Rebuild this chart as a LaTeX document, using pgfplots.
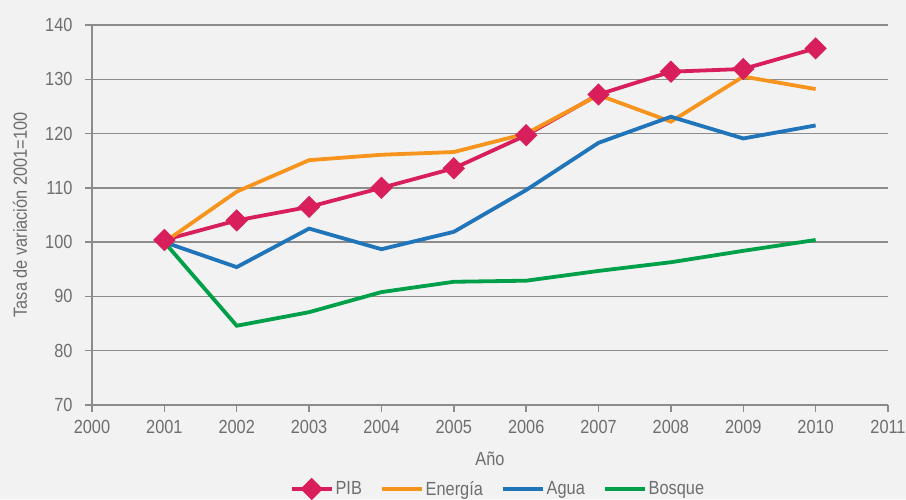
\documentclass[border=0pt]{standalone}
\usepackage{fontspec}
\setmainfont{Liberation Sans}[FakeStretch=0.86]
\usepackage{pgfplots}
\pgfplotsset{compat=1.18}
\definecolor{bgc}{HTML}{F2F2F2}
\definecolor{txt}{HTML}{6D6E70}
\definecolor{gridc}{HTML}{8C8C8C}
\definecolor{cpib}{HTML}{D81E5B}
\definecolor{cene}{HTML}{F7941D}
\definecolor{cagu}{HTML}{1F74BA}
\definecolor{cbos}{HTML}{00A04B}
\begin{document}
\begin{tikzpicture}
\fill[bgc] (-92pt,-94pt) rectangle (814pt,405pt);
\begin{axis}[
  at={(0pt,0pt)}, anchor=south west,
  scale only axis, width=796pt, height=380pt,
  xmin=2000, xmax=2011, ymin=70, ymax=140,
  xtick={2000,2001,...,2011}, ytick={70,80,...,140},
  xticklabel style={/pgf/number format/1000 sep={}, yshift=-5pt},
  yticklabel style={xshift=-9pt},
  /pgf/number format/assume math mode=true,
  axis x line*=bottom, axis y line*=left,
  axis line style={gridc, line width=1.5pt, -},
  tick style={gridc, line width=1.5pt},
  tick align=outside, major tick length=7pt,
  ymajorgrids, grid style={gridc, line width=1.5pt},
  ticklabel style={font=\fontsize{19}{21}\selectfont, text=txt},
  label style={font=\fontsize{19}{21}\selectfont, text=txt},
  xlabel={Año}, ylabel={Tasa de variación 2001=100},
  xlabel style={at={(axis description cs:0.5,-0.142)}, anchor=center},
  ylabel style={at={(axis description cs:-0.0905,0.5)}, anchor=center},
  legend columns=4,
  legend style={draw=none, fill=none, font=\fontsize{19}{21}\selectfont, text=txt,
    at={(axis description cs:0.51,-0.221)}, anchor=center,
    /tikz/every even column/.append style={column sep=16pt}},
  legend image code/.code={\draw[mark repeat=2,mark phase=2] plot coordinates {(0pt,0pt) (20pt,0pt) (40pt,0pt)};},
  every axis plot/.append style={line width=3.8pt},
  clip=false,
]
\addplot[cpib, mark=square*, mark size=6pt, mark options={rotate=45, solid}] coordinates {
(2001,100.4) (2002,104.0) (2003,106.5) (2004,110.0) (2005,113.6) (2006,119.7) (2007,127.2) (2008,131.4) (2009,131.9) (2010,135.7)};
\addlegendentry{PIB}
\addplot[cene] coordinates {
(2001,100.0) (2002,109.3) (2003,115.1) (2004,116.1) (2005,116.6) (2006,120.0) (2007,127.1) (2008,122.2) (2009,130.5) (2010,128.2)};
\addlegendentry{Energía}
\addplot[cagu] coordinates {
(2001,100.0) (2002,95.4) (2003,102.5) (2004,98.7) (2005,101.9) (2006,109.6) (2007,118.3) (2008,123.1) (2009,119.1) (2010,121.5)};
\addlegendentry{Agua}
\addplot[cbos] coordinates {
(2001,100.0) (2002,84.6) (2003,87.1) (2004,90.8) (2005,92.7) (2006,92.9) (2007,94.7) (2008,96.3) (2009,98.4) (2010,100.4)};
\addlegendentry{Bosque}
\end{axis}
\pgfresetboundingbox
\path (-92pt,-94pt) rectangle (814pt,405pt);
\end{tikzpicture}
\end{document}
